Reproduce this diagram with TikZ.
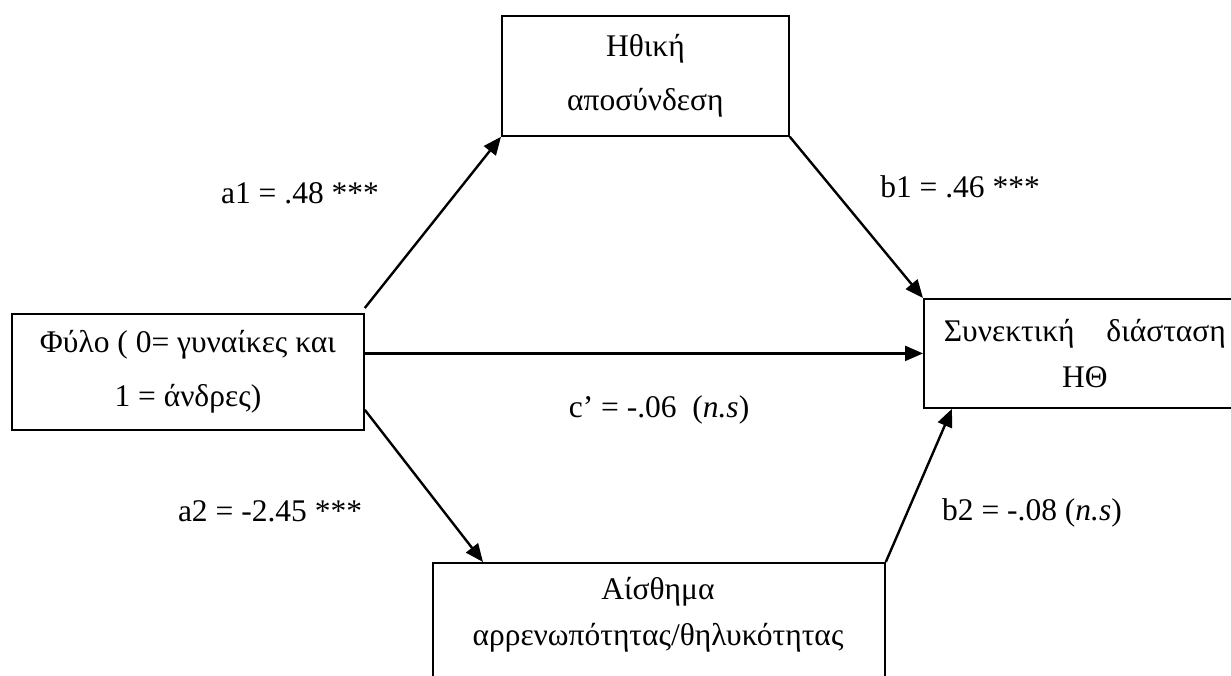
\documentclass[tikz,border=0pt]{standalone}
\usepackage{fontspec}
\setmainfont{Liberation Serif}
\usetikzlibrary{arrows.meta}
\tikzset{
  box/.style={draw, line width=1.8pt, inner sep=0pt, align=center, anchor=north west,
    font={\fontsize{31.5}{54}\selectfont}},
  txt/.style={inner sep=0pt, align=center, font={\fontsize{31.5}{54}\selectfont}},
  lbl/.style={inner sep=0pt, anchor=base, font={\fontsize{31.5}{37}\selectfont}},
  arr/.style={line width=2.4pt, -{Triangle[length=18pt,width=15pt]}}
}
\begin{document}
\begin{tikzpicture}[x=1pt, y=-1pt]
\clip (0,0) rectangle (1231,675);
\fill[white] (0,0) rectangle (1231,675);
% boxes
\node[box, minimum width=287pt, minimum height=120pt] (top) at (501,15) {Ηθική\\αποσύνδεση};
\node[box, minimum width=352pt, minimum height=116pt] (left) at (11,313) {Φύλο ( 0= γυναίκες και\\1 = άνδρες)};
\node[box, minimum width=322pt, minimum height=109pt, font={\fontsize{31.5}{46}\selectfont}] (right) at (923,298)
  {\hbox to 282pt{Συνεκτική\hfill διάσταση}\\ΗΘ};
\node[box, minimum width=452pt, minimum height=160pt] (bot) at (432,562) {};
\node[txt, font={\fontsize{31.5}{46}\selectfont}] (bottxt) at (658,615) {Αίσθημα\\αρρενωπότητας/θηλυκότητας};
% connectors
\draw[arr] ([yshift=5pt]left.north east) -- (top.south west);
\draw[arr] (top.south east) -- (right.north west);
\draw[arr] (left.east |- right.west) -- (right.west);
\draw[arr] ([yshift=21pt]left.south east) -- ([xshift=51pt]bot.north west);
\draw[arr] (bot.north east) -- ([xshift=29pt]right.south west);
% labels
\node[lbl] (la1) at (300,203) {a1 = .48 ***};
\node[lbl] (lb1) at (960,197) {b1 = .46 ***};
\node[lbl] (lc) at (659,417) {c’ = -.06\ \ (\textit{n.s})};
\node[lbl] (la2) at (270,521) {a2 = -2.45 ***};
\node[lbl] (lb2) at (1032,520) {b2 = -.08 (\textit{n.s})};
\end{tikzpicture}
\end{document}
